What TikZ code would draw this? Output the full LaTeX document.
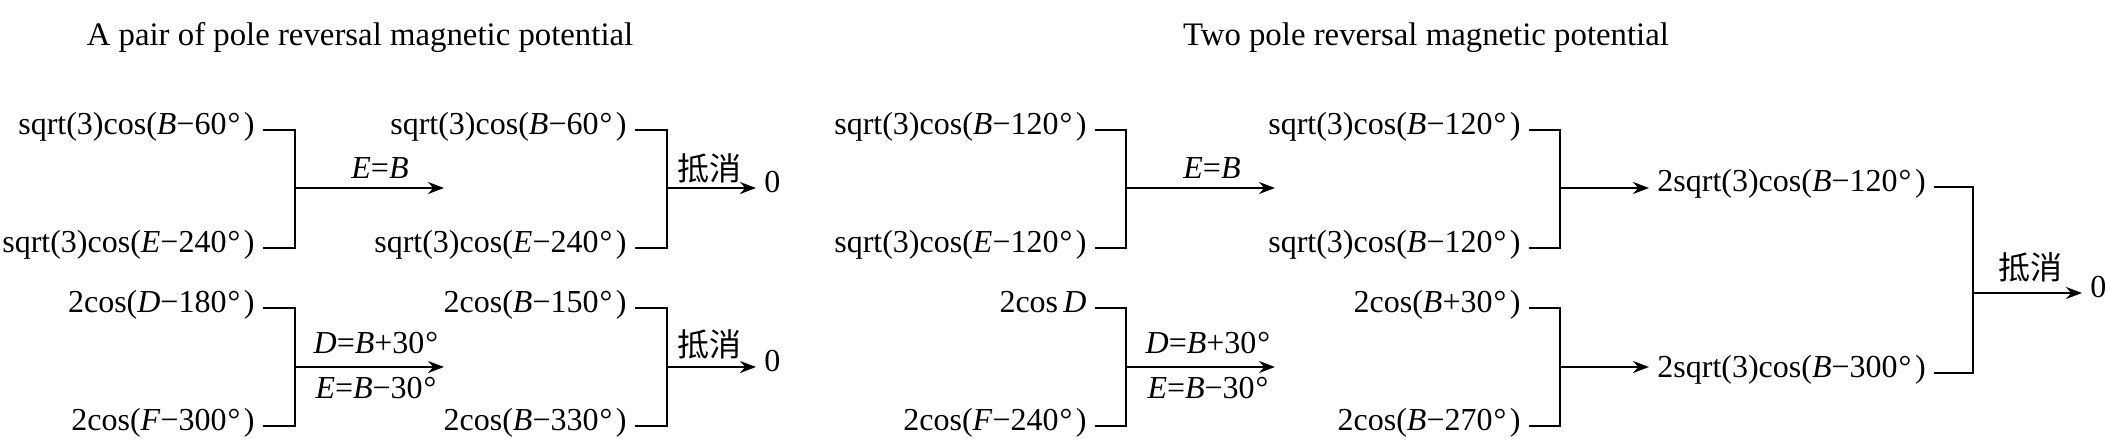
\documentclass[tikz,border=0pt]{standalone}
\usepackage{fontspec}
\setmainfont{Liberation Serif}
\newfontfamily\cjk{Noto Sans CJK SC}
\usetikzlibrary{arrows.meta}
\newcommand{\Dg}{\kern0.5pt°\kern1.8pt}
\newcommand{\Mn}{−}
\begin{document}
\begin{tikzpicture}[x=0.5pt,y=-0.5pt,
  every node/.style={font=\fontsize{16pt}{19pt}\selectfont, inner sep=0pt},
  ttl/.style={font=\fontsize{16.4pt}{19pt}\selectfont},
  term/.style={inner xsep=4pt, inner ysep=0pt, anchor=mid east},
  res/.style={inner xsep=4pt, inner ysep=0pt, anchor=mid west},
  lab/.style={anchor=center},
  wire/.style={line width=1pt},
  arr/.style={wire,-{Stealth[length=8pt,width=6pt]}}]
\useasboundingbox (0,0) rectangle (2106,442);

% titles
\node[ttl] (t1) at (360,38) {A pair of pole reversal magnetic potential};
\node[ttl] (t2) at (1426,38) {Two pole reversal magnetic potential};

% ---------- left block ----------
\node[term] (L1) at (263,130) {sqrt(3)cos(\textit{B}\Mn60\Dg)};
\node[term] (L2) at (263,248) {sqrt(3)cos(\textit{E}\Mn240\Dg)};
\coordinate (J1) at (295,188);
\coordinate (A1) at (444,188);
\draw[wire] (L1.mid east) -| (J1) |- (L2.mid east);
\draw[arr] (J1) -- (A1);
\node[lab] (l1) at (380,168) {\textit{E}=\textit{B}};

\node[term] (M1) at (635,130) {sqrt(3)cos(\textit{B}\Mn60\Dg)};
\node[term] (M2) at (635,248) {sqrt(3)cos(\textit{E}\Mn240\Dg)};
\coordinate (J2) at (667,188);
\node[res] (Z1) at (756,188) {0};
\draw[wire] (M1.mid east) -| (J2) |- (M2.mid east);
\draw[arr] (J2) -- (Z1.mid west);
\node[lab] (c1) at (709,168) {\cjk 抵消};

\node[term] (L3) at (263,308) {2cos(\textit{D}\Mn180\Dg)};
\node[term] (L4) at (263,426) {2cos(\textit{F}\Mn300\Dg)};
\coordinate (J3) at (295,367);
\coordinate (A3) at (444,367);
\draw[wire] (L3.mid east) -| (J3) |- (L4.mid east);
\draw[arr] (J3) -- (A3);
\node[lab] (l3a) at (376,343) {\textit{D}=\textit{B}+30\kern0.5pt°};
\node[lab] (l3b) at (376,388) {\textit{E}=\textit{B}\Mn30\kern0.5pt°};

\node[term] (M3) at (635,308) {2cos(\textit{B}\Mn150\Dg)};
\node[term] (M4) at (635,426) {2cos(\textit{B}\Mn330\Dg)};
\coordinate (J4) at (667,367);
\node[res] (Z2) at (756,367) {0};
\draw[wire] (M3.mid east) -| (J4) |- (M4.mid east);
\draw[arr] (J4) -- (Z2.mid west);
\node[lab] (c2) at (709,344) {\cjk 抵消};

% ---------- right block ----------
\node[term] (R1) at (1095,130) {sqrt(3)cos(\textit{B}\Mn120\Dg)};
\node[term] (R2) at (1095,248) {sqrt(3)cos(\textit{E}\Mn120\Dg)};
\coordinate (J5) at (1126,188);
\coordinate (A5) at (1275,188);
\draw[wire] (R1.mid east) -| (J5) |- (R2.mid east);
\draw[arr] (J5) -- (A5);
\node[lab] (l5) at (1212,168) {\textit{E}=\textit{B}};

\node[term] (R3) at (1095,308) {2cos\,\textit{D}};
\node[term] (R4) at (1095,426) {2cos(\textit{F}\Mn240\Dg)};
\coordinate (J6) at (1126,367);
\coordinate (A6) at (1275,367);
\draw[wire] (R3.mid east) -| (J6) |- (R4.mid east);
\draw[arr] (J6) -- (A6);
\node[lab] (l6a) at (1208,343) {\textit{D}=\textit{B}+30\kern0.5pt°};
\node[lab] (l6b) at (1208,388) {\textit{E}=\textit{B}\Mn30\kern0.5pt°};

\node[term] (S1) at (1529,130) {sqrt(3)cos(\textit{B}\Mn120\Dg)};
\node[term] (S2) at (1529,248) {sqrt(3)cos(\textit{B}\Mn120\Dg)};
\node[term] (S3) at (1529,308) {2cos(\textit{B}+30\Dg)};
\node[term] (S4) at (1529,426) {2cos(\textit{B}\Mn270\Dg)};
\coordinate (J7) at (1560,188);
\coordinate (J8) at (1560,367);
\node[res] (T1) at (1649,187) {2sqrt(3)cos(\textit{B}\Mn120\Dg)};
\node[res] (T2) at (1649,373) {2sqrt(3)cos(\textit{B}\Mn300\Dg)};
\draw[wire] (S1.mid east) -| (J7) |- (S2.mid east);
\draw[wire] (S3.mid east) -| (J8) |- (S4.mid east);
\draw[arr] (J7) -- (J7 -| T1.west);
\draw[arr] (J8) -- (J8 -| T2.west);

\coordinate (J9) at (1973,293);
\node[res] (Z3) at (2082,293) {0};
\draw[wire] (T1.mid east) -| (J9) |- (T2.mid east);
\draw[arr] (J9) -- (Z3.mid west);
\node[lab] (c3) at (2030,267) {\cjk 抵消};
\end{tikzpicture}
\end{document}
